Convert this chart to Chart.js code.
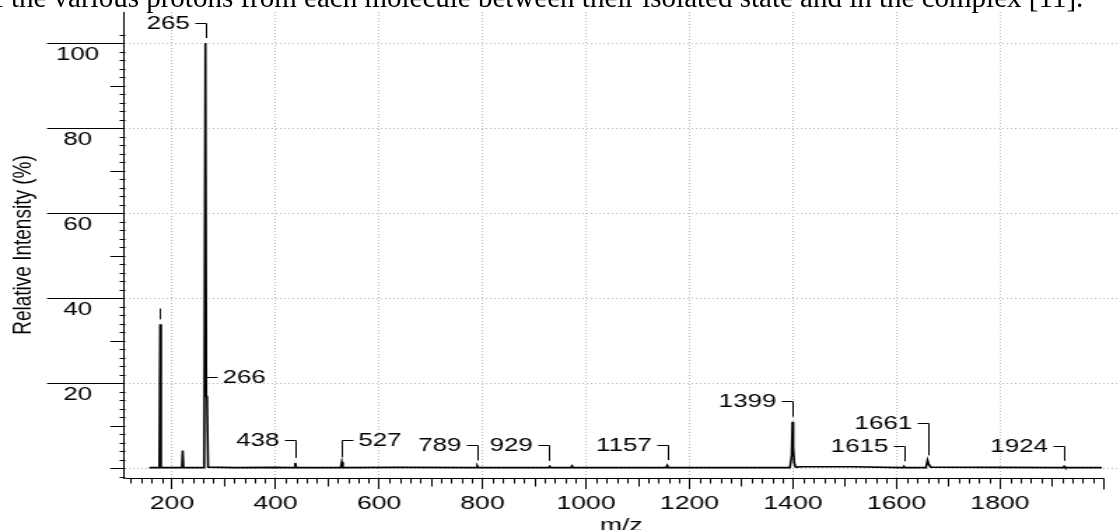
<!DOCTYPE html>
<html>
<head>
<meta charset="utf-8">
<script src="https://cdn.jsdelivr.net/npm/chart.js@4.4.1/dist/chart.umd.min.js"></script>
<style>
  html, body { margin: 0; padding: 0; background: #fff; overflow: hidden; }
  body { width: 1120px; height: 530px; position: relative; }
  #caption { position: absolute; left: -6px; top: -17px; font: 29px "Liberation Serif", "Times New Roman", serif; line-height: 29px; white-space: nowrap; color: #000; z-index: 2; }
  /* the original figure is stretched sideways, so draw it narrow and widen it */
  #stretch { position: absolute; left: 0; top: 0; width: 800px; height: 530px; transform: scaleX(1.4); transform-origin: 0 0; }
</style>
</head>
<body>
<div id="caption">f the various protons from each molecule between their isolated state and in the complex [11].</div>
<div id="stretch"><canvas id="spectrum"></canvas></div>
<script>
// spectrum (m/z vs relative intensity %)
const mzValues = [156, 175.5, 177, 178.5, 219, 220.5, 222, 262, 264.5, 266, 267.5, 269.5,
  320, 400, 436, 438, 440, 526, 528, 530, 640, 788, 790, 792, 928, 930, 932, 971, 973, 975,
  1155, 1157, 1159, 1394, 1397.5, 1399, 1400.5, 1402.5, 1405, 1420, 1513, 1613, 1615, 1617,
  1657, 1660, 1662, 1666, 1922, 1924, 1926, 1997];
const intensities = [0.1, 0.1, 33.8, 0.1, 0.1, 4.1, 0.1, 0.1, 100, 17, 16.5, 0.2,
  0.1, 0.15, 0.1, 1.2, 0.1, 0.1, 1.4, 0.1, 0.15, 0.1, 0.5, 0.1, 0.1, 0.4, 0.1, 0.1, 0.5, 0.1,
  0.1, 0.6, 0.1, 0.1, 3, 10.9, 5, 1.2, 0.2, 0.3, 0.3, 0.1, 0.3, 0.1,
  0.1, 1.8, 1.0, 0.2, 0.1, 0.4, 0.1, 0.1];

// labelled peaks
const peakLabels = ['', '265', '266', '438', '527', '789', '929', '1157', '1399', '1615', '1661', '1924'];
const peakMz = [177, 265, 266, 438, 527, 789, 929, 1157, 1399, 1615, 1661, 1924];
const peakTops = [33.8, 100, 16.5, 1.2, 1.4, 0.6, 0.5, 0.7, 10.9, 0.4, 1.8, 0.5];

// axis ticks
const xTicks = [200, 400, 600, 800, 1000, 1200, 1400, 1600, 1800];
const yTicks = [0, 20, 40, 60, 80, 100];

// where each peak label sits (intensity level of its bracket) and which side the text goes
const labelLayout = [
  { level: 37.6, side: 'none' },
  { level: 104.8, side: 'left' },
  { level: 21.5, side: 'right' },
  { level: 6.6, side: 'left' },
  { level: 6.6, side: 'right' },
  { level: 5.4, side: 'left' },
  { level: 5.4, side: 'left' },
  { level: 5.4, side: 'left' },
  { level: 15.8, side: 'left' },
  { level: 5.25, side: 'left' },
  { level: 10.5, side: 'left' },
  { level: 5.25, side: 'left' }
];

const FONT = '"Liberation Sans", Arial, Helvetica, sans-serif';

const axisMarks = {
  id: 'axisMarks',
  afterDraw(chart) {
    const { ctx, chartArea, scales: { x, y } } = chart;
    const seg = (x1, y1, x2, y2) => { ctx.beginPath(); ctx.moveTo(x1, y1); ctx.lineTo(x2, y2); ctx.stroke(); };
    const bottom = Math.round(chartArea.bottom) + 0.5;
    const left = Math.round(chartArea.left) + 0.5;

    ctx.save();
    ctx.strokeStyle = '#000';
    ctx.lineWidth = 1;

    // x axis line stops at 2000, minor/medium ticks
    seg(left, bottom, Math.round(x.getPixelForValue(2000)) + 0.5, bottom);
    for (let v = 120; v <= 2000; v += 20) {
      if (v % 200 === 0 && v < 2000) continue;
      const len = v % 200 === 0 ? 11 : (v % 100 === 0 ? 8 : 5);
      const px = Math.round(x.getPixelForValue(v)) + 0.5;
      seg(px, bottom, px, bottom + len);
    }
    // y minor/medium ticks
    for (let v = -2; v <= 102; v += 2) {
      if (v % 20 === 0 && v > 0) continue;
      const len = v % 10 === 0 ? 10.7 : 4;
      const py = Math.round(y.getPixelForValue(v)) + 0.5;
      seg(left - len, py, left, py);
    }

    // peak labels with their little brackets
    ctx.font = '18.5px ' + FONT;
    ctx.fillStyle = '#000';
    ctx.textBaseline = 'middle';
    peakLabels.forEach((txt, i) => {
      const { level, side } = labelLayout[i];
      const px = Math.round(x.getPixelForValue(peakMz[i])) + 0.5;
      const top = Math.round(y.getPixelForValue(level)) + 0.5;
      const foot = y.getPixelForValue(peakTops[i]) - 5;
      seg(px, top, px, foot);
      if (side === 'left') {
        seg(px - 8, top, px, top);
        ctx.textAlign = 'right';
        ctx.fillText(txt, px - 12, top + 0.5);
      } else if (side === 'right') {
        seg(px, top, px + 8, top);
        ctx.textAlign = 'left';
        ctx.fillText(txt, px + 11.5, top + 0.5);
      }
    });
    ctx.restore();
  }
};

new Chart(document.getElementById('spectrum'), {
  type: 'line',
  data: {
    datasets: [{
      data: mzValues.map((m, i) => ({ x: m, y: intensities[i] })),
      borderColor: '#000',
      borderWidth: 1.6,
      pointRadius: 0,
      tension: 0,
      fill: false
    }]
  },
  options: {
    responsive: true,
    maintainAspectRatio: false,
    animation: false,
    layout: { padding: { top: 12, right: 1, left: 0, bottom: 0 } },
    plugins: { legend: { display: false }, tooltip: { enabled: false } },
    scales: {
      x: {
        type: 'linear',
        min: 107.2,
        max: 2029.3,
        afterBuildTicks: s => { s.ticks = xTicks.map(v => ({ value: v })); },
        afterFit: s => { s.height = 52; },
        grid: { color: '#b9b9b9', lineWidth: 1, tickLength: 11, tickColor: '#000', tickWidth: 1, tickBorderDash: [] },
        border: { display: false, dash: [1, 2] },
        ticks: {
          color: '#000', font: { family: FONT, size: 19 }, padding: 3, maxRotation: 0, autoSkip: false,
          callback: v => String(v)
        },
        title: { display: true, text: 'm/z', color: '#000', font: { family: FONT, size: 19 }, padding: { top: 0, bottom: -7 } }
      },
      y: {
        type: 'linear',
        min: -2.35,
        max: 107.3,
        afterBuildTicks: s => { s.ticks = yTicks.map(v => ({ value: v })); },
        afterFit: s => { s.width = 88.6; },
        grid: {
          color: '#b9b9b9', lineWidth: 1, tickLength: 55, tickWidth: 1, tickBorderDash: [],
          tickColor: c => (c.tick && c.tick.value === 0) ? 'rgba(0,0,0,0)' : '#000'
        },
        border: { display: true, color: '#000', width: 1, dash: [1, 2] },
        ticks: {
          color: '#000', font: { family: FONT, size: 18.5 }, padding: -37.3, crossAlign: 'center', labelOffset: 12,
          callback: v => v === 0 ? '' : String(v)
        },
        title: { display: true, text: 'Relative Intensity (%)', color: '#000', font: { family: FONT, size: 19 }, padding: { top: 5.6, bottom: 0 } }
      }
    }
  },
  plugins: [axisMarks]
});
</script>
</body>
</html>
